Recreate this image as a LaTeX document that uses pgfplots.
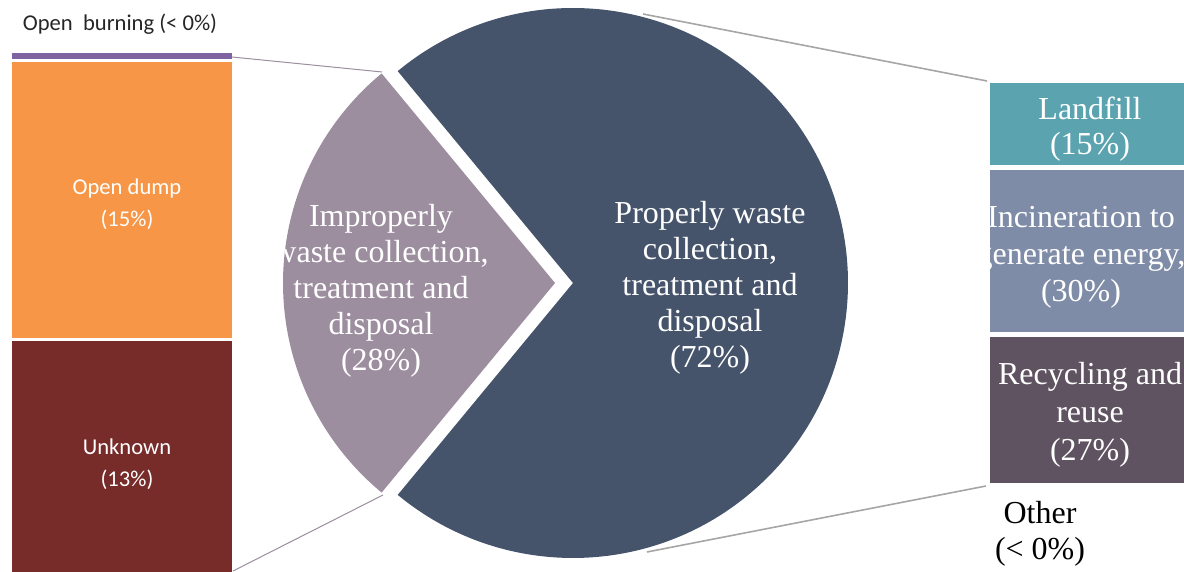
\documentclass[border=0pt]{standalone}
\usepackage{pgfplots}
\pgfplotsset{compat=1.18}
\usepackage{fontspec}
\setmainfont{Liberation Serif}
\newfontfamily\calibri{Carlito}

\definecolor{burnPurple}{HTML}{8064A2}
\definecolor{dumpOrange}{HTML}{F79646}
\definecolor{unkRed}{HTML}{772C2A}
\definecolor{smallSlice}{HTML}{9C8D9F}
\definecolor{bigSlice}{HTML}{46546B}
\definecolor{landTeal}{HTML}{5BA3AF}
\definecolor{incBlue}{HTML}{7F8CA7}
\definecolor{recMauve}{HTML}{5F5261}
\definecolor{lineGrey}{HTML}{A6A6A6}
\definecolor{leftLine}{HTML}{9C8D9F}

% share of the exploded slice (improper handling), in percent
\def\improper{28}
\pgfmathsetmacro{\half}{\improper*3.6/2}
\pgfmathsetmacro{\aTop}{180-\half}
\pgfmathsetmacro{\aBot}{180+\half}
\pgfmathsetmacro{\aBotNeg}{-180+\half}

\begin{document}
\begin{tikzpicture}
\begin{axis}[
  scale only axis, width=592pt, height=286pt,
  xmin=0, xmax=1184, ymin=0, ymax=572, y dir=reverse,
  axis lines=none, ticks=none,
]
% connector lines
\addplot[color=leftLine, line width=0.5pt] coordinates {(232,57) (382,72)};
\addplot[color=leftLine, line width=0.5pt] coordinates {(233,571) (383,495)};
\addplot[color=lineGrey, line width=0.8pt] coordinates {(643,14) (987,81)};
\addplot[color=lineGrey, line width=0.8pt] coordinates {(647,552) (986,486)};

% left stacked bar (improper handling)
\addplot[fill=burnPurple, draw=none] coordinates {(12,53) (232,53) (232,59) (12,59)} -- cycle;
\addplot[fill=dumpOrange, draw=none] coordinates {(12,62) (232,62) (232,338) (12,338)} -- cycle;
\addplot[fill=unkRed, draw=none] coordinates {(12,341) (232,341) (232,572) (12,572)} -- cycle;

% right stacked bar (proper handling)
\addplot[fill=landTeal, draw=none] coordinates {(990,83) (1184,83) (1184,165) (990,165)} -- cycle;
\addplot[fill=incBlue, draw=none] coordinates {(990,170) (1184,170) (1184,332) (990,332)} -- cycle;
\addplot[fill=recMauve, draw=none] coordinates {(990,337) (1184,337) (1184,483) (990,483)} -- cycle;

% pie: 72% and exploded 28%
\fill[bigSlice] (axis cs:573,283) -- ++(\aTop:137.5pt) arc[start angle=\aTop, end angle=\aBotNeg, radius=137.5pt] -- cycle;
\fill[smallSlice] (axis cs:555,283) -- ++(\aTop:136pt) arc[start angle=\aTop, end angle=\aBot, radius=136pt] -- cycle;

\node[font=\fontsize{16}{18}\selectfont, align=center, text=white, inner sep=0pt]
  at (axis cs:710,288) {Properly waste\\collection,\\treatment and\\disposal\\(72\%)};

\begin{scope}
\clip (axis cs:555,283) -- ++(\aTop:136pt) arc[start angle=\aTop, end angle=\aBot, radius=136pt] -- cycle;
\node[font=\fontsize{16}{18}\selectfont, align=center, text=white, inner sep=0pt]
  at (axis cs:381,291) {Improperly\\waste collection,\\treatment and\\disposal\\(28\%)};
\end{scope}

% left bar labels
\node[font=\calibri\fontsize{11.3}{16}\selectfont, text=black!85, inner sep=0pt] at (axis cs:120,24) {Open~~burning (< 0\%)};
\node[font=\calibri\fontsize{11.3}{16}\selectfont, align=center, text=white, inner sep=0pt] at (axis cs:127,204) {Open dump\\(15\%)};
\node[font=\calibri\fontsize{11.3}{16}\selectfont, align=center, text=white, inner sep=0pt] at (axis cs:127,464) {Unknown\\(13\%)};

% right bar labels
\node[font=\fontsize{16}{17.5}\selectfont, align=center, text=white, inner sep=0pt] at (axis cs:1090,129) {Landfill\\(15\%)};
\begin{scope}
\clip (axis cs:990,170) rectangle (axis cs:1184,332);
\node[font=\fontsize{16}{18.5}\selectfont, align=center, text=white, inner sep=0pt] at (axis cs:1081,257) {Incineration to\\generate energy,\\(30\%)};
\end{scope}
\node[font=\fontsize{16}{19}\selectfont, align=center, text=white, inner sep=0pt] at (axis cs:1090,415) {Recycling and\\reuse\\(27\%)};
\node[font=\fontsize{16}{18}\selectfont, align=center, text=black, inner sep=0pt] at (axis cs:1040,534) {Other\\(< 0\%)};

\path (axis cs:0,0) coordinate (TL) (axis cs:1184,572) coordinate (BR);
\end{axis}
\pgfresetboundingbox
\path[use as bounding box] (TL) rectangle (BR);
\end{tikzpicture}
\end{document}
